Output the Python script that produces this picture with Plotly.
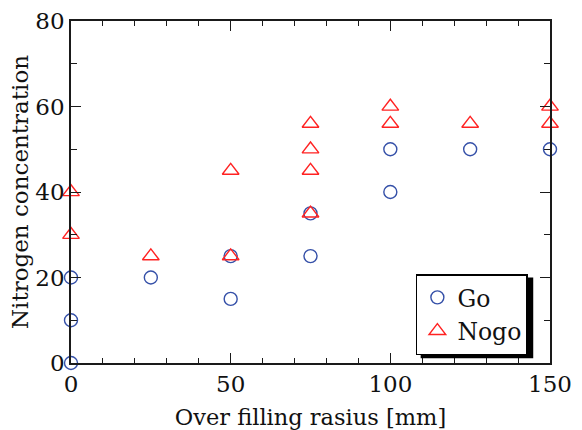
import plotly.graph_objects as go

# Over-filling radius [mm] and nitrogen concentration for each outcome
go_radius = [0, 0, 0, 25, 50, 50, 75, 75, 100, 100, 125, 150]
go_conc = [0, 10, 20, 20, 15, 25, 25, 35, 40, 50, 50, 50]

nogo_radius = [0, 0, 25, 50, 50, 75, 75, 75, 75, 100, 100, 125, 150, 150]
nogo_conc = [30, 40, 25, 25, 45, 35, 45, 50, 56, 56, 60, 56, 56, 60]

x_ticks = [0, 50, 100, 150]
y_ticks = [0, 20, 40, 60, 80]

FONT = "DejaVu Serif"
INK = "#111"
BLUE = "#3550a8"
RED = "#ff2222"

fig = go.Figure()
fig.add_trace(go.Scatter(
    x=go_radius, y=go_conc, mode="markers", name="Go", cliponaxis=False,
    marker=dict(symbol="circle-open", size=13, color=BLUE, line=dict(width=1.4, color=BLUE)),
))
fig.add_trace(go.Scatter(
    x=nogo_radius, y=nogo_conc, mode="markers", name="Nogo", cliponaxis=False,
    marker=dict(symbol="triangle-up-open", size=14.5, color=RED, line=dict(width=1.4, color=RED)),
))

axis_common = dict(
    showgrid=False, zeroline=False, showline=True, linecolor="#1a1a1a", linewidth=1.5,
    mirror="allticks", ticks="inside", ticklen=10, tickwidth=1.3, tickcolor="#1a1a1a",
    tickfont=dict(family=FONT, size=23, color=INK), automargin=False,
)

fig.update_xaxes(
    range=[0, 150], tickvals=x_ticks,
    minor=dict(dtick=10, ticks="inside", ticklen=5, tickwidth=1.3, tickcolor="#1a1a1a"),
    title=dict(text="Over filling rasius [mm]", font=dict(family=FONT, size=22.5, color=INK)),
    **axis_common,
)
fig.update_yaxes(
    range=[0, 80], tickvals=y_ticks,
    minor=dict(dtick=10, ticks="inside", ticklen=6, tickwidth=1.3, tickcolor="#1a1a1a"),
    title=dict(text="Nitrogen concentration", font=dict(family=FONT, size=23, color=INK), standoff=0),
    **axis_common,
)

# drop shadow behind the legend box
fig.add_shape(type="rect", xref="paper", yref="paper", layer="above",
              x0=0.73, x1=0.965, y0=0.014, y1=0.25,
              fillcolor="black", line=dict(width=0))

fig.update_layout(
    width=582, height=430,
    margin=dict(l=71, r=32, t=21, b=67),
    paper_bgcolor="white", plot_bgcolor="white",
    showlegend=True,
    legend=dict(
        x=0.72, y=0.26, xanchor="left", yanchor="top",
        bgcolor="white", bordercolor="black", borderwidth=1.5,
        font=dict(family=FONT, size=23.5, color=INK),
        tracegroupgap=0, itemsizing="trace",
    ),
)

fig.write_html("out.html")
